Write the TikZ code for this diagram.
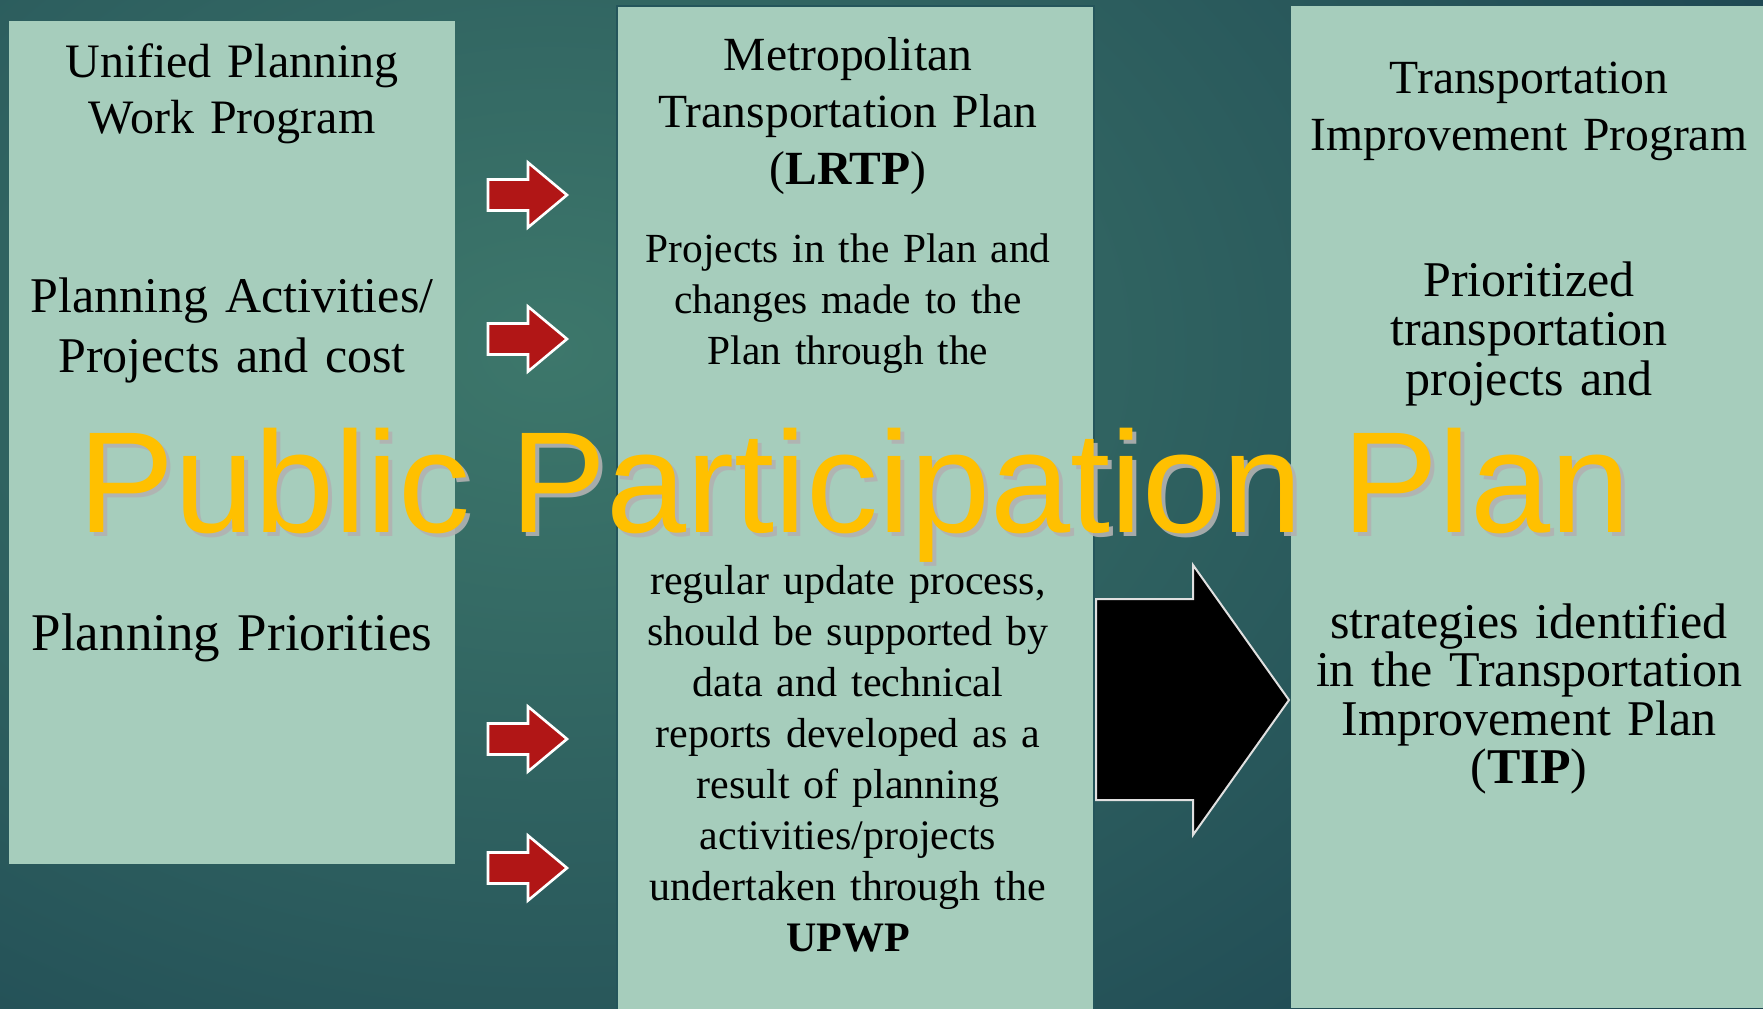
\documentclass[tikz,border=0pt]{standalone}
\usepackage{fontspec}
\setmainfont{Liberation Serif}
\newfontfamily\arialfont{Liberation Sans}
\definecolor{boxgreen}{HTML}{A6CDBC}
\definecolor{bgdark}{HTML}{19404F}
\definecolor{bglight}{HTML}{3D776B}
\definecolor{arrowred}{HTML}{B11616}
\definecolor{ppyellow}{HTML}{FFC000}
\definecolor{edgeteal}{HTML}{24555B}
\tikzset{
  panel/.style={fill=boxgreen,draw=none},
  blocktext/.style={anchor=base,align=center,inner sep=0pt,text width=#1},
  redarrow/.style={fill=arrowred,draw=white,line width=1.3pt,line join=miter},
  bigarrow/.style={fill=black,draw=white!88!black,line width=1pt,line join=miter},
}
%% red block arrow, centred on height #1
\newcommand\redarr[1]{\draw[redarrow] (488,#1-15.5) -- (528,#1-15.5) -- (528,#1-32.5)
  -- (567,#1) -- (528,#1+32.5) -- (528,#1+15.5) -- (488,#1+15.5) -- cycle;}
\begin{document}
\begin{tikzpicture}[x=0.5pt,y=-0.5pt]
\useasboundingbox (0,0) rectangle (1763,1008);
%% background
\begin{scope}
\clip (0,0) rectangle (1763,1008);
\shade[inner color=bglight,outer color=bgdark] (-1000,-800) rectangle (2100,1500);
\end{scope}
%% panels
\path[panel] (9,21) rectangle (455,864);
\path[panel,draw=edgeteal,line width=1pt] (617,6) rectangle (1094,1014);
\path[panel] (1291,6) rectangle (1763,1008);
%% left column
\node[blocktext=220pt,font=\fontsize{24}{28}\selectfont] (upwp) at (232,77) {Unified Planning\\Work Program};
\node[blocktext=220pt,font=\fontsize{25}{30}\selectfont] (activ) at (232,312) {Planning Activities/\\Projects and cost};
\node[blocktext=220pt,font=\fontsize{26.5}{30}\selectfont] (prior) at (232,650) {Planning Priorities};
%% middle column
\node[blocktext=236pt,font=\fontsize{23.8}{28.7}\selectfont] (mtp) at (848,70) {Metropolitan\\Transportation Plan\\(\textbf{LRTP})};
\node[blocktext=236pt,font=\fontsize{20.7}{25.7}\selectfont] (projs) at (848,262) {Projects in the Plan and\\changes made to the\\Plan through the};
\node[blocktext=236pt,font=\fontsize{21}{25.5}\selectfont] (update) at (848,594) {regular update process,\\should be supported by\\data and technical\\reports developed as a\\result of planning\\activities/projects\\undertaken through the\\\textbf{UPWP}};
%% right column
\node[blocktext=234pt,font=\fontsize{23.8}{28.5}\selectfont] (tip) at (1529,93) {Transportation\\Improvement Program};
\node[blocktext=234pt,font=\fontsize{25}{24.75}\selectfont] (prio) at (1529,296) {Prioritized\\transportation\\projects and};
\node[blocktext=234pt,font=\fontsize{25}{24.3}\selectfont] (strat) at (1529,638) {strategies identified\\in the Transportation\\Improvement Plan\\(\textbf{TIP})};
%% arrows
\redarr{195}
\redarr{339}
\redarr{739}
\redarr{868}
\draw[bigarrow] (1096,599) -- (1193,599) -- (1193,565) -- (1289,700) -- (1193,835) -- (1193,800) -- (1096,800) -- cycle;
%% title over everything
\node[anchor=base,inner sep=0pt,font=\arialfont\fontsize{72}{72}\selectfont,text=black!30,opacity=0.9] (pppshadow) at (859,536) {Public Participation Plan};
\node[anchor=base,inner sep=0pt,font=\arialfont\fontsize{72}{72}\selectfont,text=ppyellow] (ppp) at (855,532) {Public Participation Plan};
\end{tikzpicture}
\end{document}
